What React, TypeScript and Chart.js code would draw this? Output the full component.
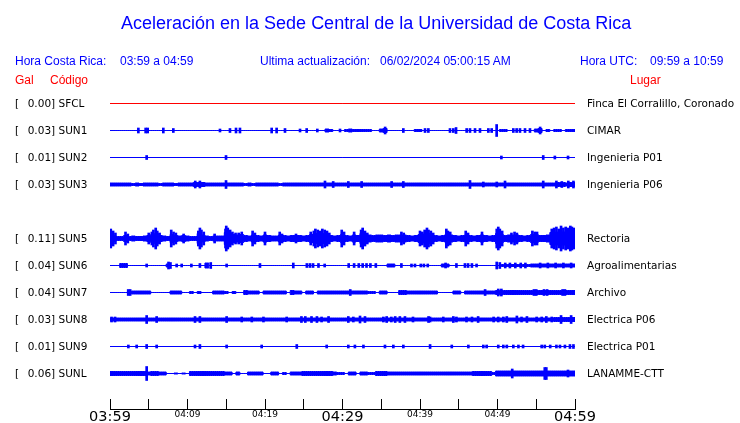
import { useEffect, useRef } from "react";
import { Chart, registerables } from "chart.js";

Chart.register(...registerables);

// ---------- data ----------
const CODES = ["SFCL", "SUN1", "SUN2", "SUN3", "SUN5", "SUN6", "SUN7", "SUN8", "SUN9", "SUNL"];
const PEAKS = ["0.00", "0.03", "0.01", "0.03", "0.11", "0.04", "0.04", "0.03", "0.01", "0.06"];
const PLACES = [
  "Finca El Corralillo, Coronado",
  "CIMAR",
  "Ingenieria P01",
  "Ingenieria P06",
  "Rectoria",
  "Agroalimentarias",
  "Archivo",
  "Electrica P06",
  "Electrica P01",
  "LANAMME-CTT",
];
// row slot of each station (slot 4 is empty)
const SLOTS = [0, 1, 2, 3, 5, 6, 7, 8, 9, 10];

// x axis: minutes after 03:59
const X_TICK_MINUTES = [0, 5, 10, 15, 20, 25, 30, 35, 40, 45, 50, 55, 60];
const X_TICK_LABELS = ["03:59", "", "04:09", "", "04:19", "", "04:29", "", "04:39", "", "04:49", "", "04:59"];
const X_MAJOR_LABELS = ["03:59", "04:29", "04:59"];

// envelope half-amplitudes (hundredths of gal), sampled evenly over the hour
const SFCL_ENV = [0, 0];
const SFCL_SPIKES: number[][] = [];

const SUN1_ENV = [
  0, 0, 0, 0, 0, 0, 0, 0, 0, 0,
  0, 0, 0, 0, 0, 0, 0, 0, 0, 0,
  0, 0, 0, 0, 0, 0, 0, 0, 0, 0,
  0, 0, 0, 0, 0, 0, 0, 0, 0, 0,
  0, 0, 0, 0, 0, 0, 0, 0, 0, 0,
  0, 0, 0, 0, 0, 0, 1.5, 1, 0, 0,
  0, 1, 1.5, 1, 1, 1, 1, 1, 0, 0,
  1.5, 2, 0, 0, 0, 0, 0, 0, 0, 1,
  1, 0, 0, 0, 0, 0, 0, 0, 0, 0,
  0, 0, 0, 0, 0, 0, 0, 0, 0, 0,
  0, 1, 1, 0, 0, 0, 0, 0, 0, 0,
  1.5, 2, 0, 1, 0, 1, 1, 0, 1, 1,
  1,
];
// [minute, half-amplitude]
const SUN1_SPIKES = [
  [3.66, 2], [4.6, 2], [4.86, 2], [6.88, 2], [8.17, 1.5], [14.19, 1], [15.48, 1.5], [16.26, 2],
  [16.77, 2], [20.86, 2], [21.5, 2], [22.58, 1.5], [24.52, 1], [25.38, 1.5], [26.75, 1], [29.68, 1],
  [35.5, 3], [37.85, 1.5], [40.65, 1.5], [41.08, 1.5], [43.87, 1.5], [44.3, 1.5], [44.65, 2.5], [46.02, 1.5],
  [46.45, 1.5], [47.1, 1.5], [47.74, 1.5], [48.82, 1.5], [49.25, 1.5], [49.89, 5.5], [52.04, 1.5],
  [52.47, 1.5], [52.9, 1.5], [53.55, 1.5], [54.19, 1.5], [55.5, 3],
];

const SUN2_ENV = [0, 0];
const SUN2_SPIKES = [[4.73, 1.5], [14.97, 1.5], [50.5, 1], [55.9, 1.5], [57.4, 1], [59.1, 1]];

const SUN3_ENV = [
  1.5, 1.5, 1.5, 1.5, 1.5, 1.5, 1, 1.5, 1, 1.5,
  1.5, 1.5, 1.5, 1, 1.5, 1.5, 1.5, 1, 1.5, 1.5,
  1.5, 1.5, 2, 2, 2, 1.5, 1.5, 1.5, 1.5, 1.5,
  1.5, 1.5, 1.5, 1.5, 1.5, 1, 1.5, 1, 1.5, 1.5,
  1.5, 1.5, 1.5, 1.5, 1, 1.5, 1.5, 1.5, 1.5, 1.5,
  1.5, 1.5, 1.5, 1.5, 1.5, 1.5, 1.5, 1.5, 1.5, 1.5,
  1.5, 1.5, 1.5, 1.5, 1.5, 1.5, 1.5, 1.5, 1.5, 1.5,
  1.5, 1.5, 1.5, 1.5, 1.5, 1.5, 1.5, 1.5, 1.5, 1.5,
  1.5, 1.5, 1.5, 1.5, 1.5, 1.5, 1.5, 1.5, 1.5, 1.5,
  1.5, 1.5, 1.5, 1.5, 1.5, 1.5, 1.5, 1.5, 1.5, 1.5,
  1.5, 1.5, 1.5, 1.5, 1.5, 1.5, 1.5, 1.5, 1.5, 1.5,
  1.5, 1.5, 1.5, 1.5, 1.5, 1.5, 2, 2, 1.5, 2,
  2,
];
const SUN3_SPIKES = [
  [11.0, 3], [11.6, 3], [14.97, 3.5], [27.74, 3], [28.8, 2.5], [30.75, 2.5], [32.47, 2.5],
  [36.34, 2.5], [37.85, 2.5], [46.45, 3.5], [48.17, 2], [49.9, 2], [50.97, 3], [55.9, 3],
  [57.6, 3], [58.3, 2.5], [59.14, 3], [59.8, 3],
];

// solid core of the Rectoria record, plus its individual peaks below
const SUN5_ENV = [
  4, 3, 2, 2, 3, 2, 2.5, 2, 2, 2.5,
  3, 4, 5, 3, 2.5, 2, 4, 3, 2.5, 3,
  2.5, 2, 2, 5, 3.5, 2.5, 2, 2.5, 2.5, 2.5,
  6, 5, 4, 3.5, 4, 3, 2.5, 3.5, 3, 2.5,
  3.5, 3, 2.5, 2.5, 3.5, 3, 2.5, 3, 3, 3,
  2.5, 3, 4, 5, 5, 5, 4, 3, 2.5, 3,
  4, 3, 2.5, 3.5, 3, 5, 4, 3.5, 3, 3.5,
  3.5, 3, 3.5, 3, 3.5, 3.5, 3.5, 3, 2.5, 3,
  4, 4.5, 5, 4, 3, 2.5, 3, 4.5, 3.5, 3,
  2.5, 3, 3.5, 3, 2.5, 3, 3.5, 3, 2.5, 3,
  5, 4, 3, 3.5, 3.5, 3.5, 3, 2.5, 3, 4,
  4, 3, 3, 3.5, 6, 6.5, 6.5, 6.5, 6.5, 6.5,
  6.5,
];
const SUN5_SPIKES = [
  [0.1, 9], [0.4, 7], [0.7, 5], [2.0, 6], [2.3, 4],
  [5.0, 5], [5.4, 6], [5.6, 8], [5.9, 10], [6.1, 7], [6.4, 5],
  [7.9, 8], [8.2, 6], [8.5, 5], [9.5, 4],
  [11.4, 7], [11.6, 10], [11.8, 8], [12.1, 6], [13.5, 4],
  [14.9, 9], [15.0, 12], [15.2, 10], [15.5, 8], [15.8, 6], [16.2, 5], [16.6, 5], [17.0, 6],
  [18.4, 7], [18.7, 5], [20.0, 6], [21.9, 6], [22.2, 4], [24.0, 4],
  [25.9, 6], [26.3, 7], [26.5, 9], [26.8, 8], [27.1, 7], [27.4, 9], [27.7, 8], [28.0, 7], [28.3, 5],
  [29.9, 8], [30.2, 6], [31.5, 6], [32.4, 8], [32.6, 10], [32.9, 7], [33.2, 5],
  [37.6, 6], [37.9, 5],
  [40.0, 7], [40.3, 6], [40.6, 8], [40.9, 10], [41.1, 8], [41.4, 7], [41.7, 5],
  [43.4, 9], [43.6, 7], [43.9, 6], [45.9, 7], [46.2, 5], [48.0, 6],
  [49.9, 9], [50.1, 11], [50.3, 9], [50.6, 7], [51.8, 5], [52.2, 6], [52.5, 5],
  [54.5, 7], [54.8, 6], [55.1, 6],
  [57.0, 9], [57.3, 10], [57.6, 11], [57.9, 9], [58.2, 12], [58.5, 10], [58.8, 11], [59.1, 10],
  [59.4, 12], [59.6, 11], [59.9, 10],
];

const SUN6_ENV = [
  0, 0, 0, 2, 2, 0, 0, 0, 0, 0,
  0, 0, 0, 0, 0, 1.5, 0, 0, 0, 0,
  0, 0, 0, 0, 0, 2.5, 0, 0, 0, 0,
  0, 0, 0, 0, 0, 0, 0, 0, 0, 0,
  0, 0, 0, 0, 0, 0, 0, 0, 0, 0,
  0, 0, 0, 0, 0, 0, 0, 0, 0, 0,
  0, 0, 0, 0, 0, 0, 0, 0, 0, 0,
  0, 0, 1.5, 1.5, 0, 0, 0, 0, 0, 0,
  0, 0, 0, 0, 0, 0, 1.5, 1.5, 0, 0,
  0, 0, 0, 0, 0, 0, 0, 0, 0, 0,
  0, 1, 1, 1, 1, 1, 1, 1, 1, 1.5,
  1.5, 1.5, 1.5, 1.5, 1.5, 1.5, 1.5, 1.5, 1.5, 1.5,
  1.5,
];
const SUN6_SPIKES = [
  [4.73, 1], [7.55, 3], [7.8, 2.5], [8.6, 1], [9.25, 1], [10.5, 1], [11.6, 1.5], [13.0, 2.5],
  [15.05, 1], [19.35, 1.5], [23.65, 2], [25.4, 1.5], [25.8, 1.5], [26.2, 1.5], [26.9, 1.5],
  [27.7, 1], [30.8, 1.5], [31.5, 1.5], [32.1, 1.5], [32.6, 1.5], [33.1, 1.5], [33.6, 1.5],
  [34.3, 1.5], [37.6, 1.5], [38.9, 1], [39.35, 1], [40.1, 1], [40.5, 1], [41, 1], [43.3, 2],
  [44.7, 1.5], [45.8, 1.5], [46.2, 1.5], [46.7, 1.5], [47.3, 1], [49.9, 3], [50.3, 2.5],
  [51, 2], [51.6, 2], [52.3, 2], [53, 2], [53.6, 2], [55.5, 2], [56.5, 2], [57.5, 2],
  [58.5, 2], [59.5, 2],
];

const SUN7_ENV = [
  0, 0, 0, 0, 0, 1, 1.5, 1.5, 1.5, 1.5,
  1.5, 0, 0, 0, 0, 0, 1.5, 1.5, 1.5, 0,
  0, 1, 0, 1, 0, 0, 0, 1.5, 1.5, 1.5,
  1, 0, 1, 0, 0, 2, 1.5, 1.5, 1.5, 0,
  1.5, 1.5, 1.5, 1.5, 1.5, 1.5, 0, 2, 1.5, 1.5,
  0, 1.5, 1.5, 0, 1.5, 1.5, 1.5, 1.5, 1.5, 1.5,
  1.5, 1.5, 1.5, 1.5, 1.5, 1.5, 1.5, 1, 1, 0,
  1.5, 1.5, 0, 0, 0, 2, 2, 1.5, 1.5, 1.5,
  1.5, 1.5, 1.5, 1.5, 1.5, 0, 0, 0, 0, 1.5,
  1.5, 0, 1.5, 1.5, 1.5, 1.5, 1.5, 1.5, 1.5, 1.5,
  2, 2, 2, 2, 2, 2, 2, 2, 2, 2,
  2, 2, 2, 2, 2, 2, 2, 2, 2, 2,
  2,
];
const SUN7_SPIKES = [
  [2.35, 2.5], [2.6, 2.5], [31.0, 2.5], [48.4, 2.5], [50.1, 3], [50.5, 3], [54.7, 2.5],
  [55.0, 2.5], [56.0, 2.5], [56.4, 2.5], [58.4, 2.5], [58.7, 2.5],
];

const SUN8_ENV = [
  1.5, 1.5, 1.5, 1.5, 1.5, 1.5, 1.5, 1.5, 1.5, 1.5,
  1.5, 1.5, 1.5, 1.5, 1.5, 1.5, 1.5, 1.5, 1.5, 1.5,
  1.5, 1.5, 1.5, 1.5, 1.5, 1.5, 1.5, 1.5, 1.5, 1.5,
  1.5, 1.5, 1.5, 1.5, 1.5, 1.5, 1.5, 1.5, 1.5, 1.5,
  1.5, 1.5, 1.5, 1.5, 1.5, 1.5, 1.5, 1.5, 1.5, 1.5,
  1.5, 1.5, 1.5, 1.5, 1.5, 1.5, 1.5, 1.5, 1.5, 1.5,
  1.5, 1.5, 1.5, 1.5, 1.5, 1.5, 1.5, 1.5, 1.5, 1.5,
  1.5, 1.5, 1.5, 1.5, 1.5, 1.5, 1.5, 1.5, 1.5, 1.5,
  1.5, 1.5, 1.5, 1.5, 1.5, 1.5, 1.5, 1.5, 1.5, 1.5,
  1.5, 1.5, 1.5, 1.5, 1.5, 1.5, 1.5, 1.5, 1.5, 1.5,
  1.5, 1.5, 1.5, 1.5, 1.5, 1.5, 1.5, 1.5, 1.5, 1.5,
  1.5, 1.5, 1.5, 1.5, 1.5, 2, 2, 2, 2, 2,
  2,
];
const SUN8_SPIKES = [
  [0.2, 2], [0.65, 2], [4.73, 3.5], [6.02, 2.5], [10.97, 2.5], [11.6, 2.5], [15.05, 2.5],
  [17, 2], [18.3, 2], [19.8, 2], [22.8, 2], [24.7, 2.5], [25.2, 2.5], [26, 2.5], [26.7, 2.5],
  [27.3, 2], [28.2, 2.5], [30.75, 2.5], [31.4, 2], [32.26, 3], [32.9, 2.5], [35.27, 2],
  [35.7, 2.5], [36.3, 2], [36.8, 2.5], [37.4, 2.5], [38.06, 2.5], [39.1, 2], [41.1, 2.5],
  [41.3, 2], [43, 2], [44.3, 2.5], [44.7, 2], [46, 2], [46.7, 2], [47.5, 2.5], [49.5, 2],
  [50.1, 2], [50.75, 2], [51.2, 2.5], [52.5, 3], [53.1, 2], [53.8, 2.5], [55.05, 2],
  [55.7, 2], [56.3, 2.5], [57, 2], [58.2, 3.5], [59.5, 3.5],
];

const SUN9_ENV = [0, 0];
const SUN9_SPIKES = [
  [2.37, 1], [3.44, 1], [4.73, 1.5], [6.02, 1], [10.97, 1], [11.6, 1.5], [15.05, 1], [19.57, 1],
  [24.1, 1.5], [27.96, 1], [30.75, 1], [31.6, 1], [32.7, 1], [35.48, 1], [36.56, 1], [37.85, 1],
  [41.3, 1.5], [44.1, 1], [46.24, 1], [48.17, 1], [48.6, 1], [50.1, 1], [50.75, 1], [51.2, 1],
  [52.04, 1], [52.7, 1], [53.3, 1], [55.7, 1], [56.1, 1], [56.8, 1], [57.6, 1], [58.06, 1],
  [58.7, 1], [59.35, 1.5], [59.8, 1.5],
];

const SUNL_ENV = [
  2, 2, 2, 2, 2, 2, 2, 2, 2, 2,
  1.5, 2, 2, 1.5, 1.5, 0, 0, 0.5, 0, 0.5,
  0, 2, 2, 2, 2, 2, 2, 2, 2, 2,
  1.5, 1.5, 0, 1.5, 0, 0, 1.5, 1.5, 1.5, 1.5,
  0, 0, 1.5, 1.5, 0, 1, 0, 1.5, 1.5, 1.5,
  2, 2, 2, 2, 2, 2, 2, 2, 1.5, 1,
  1, 0, 1.5, 1.5, 0, 1.5, 1.5, 1, 1, 2,
  2, 2, 1.5, 1.5, 1.5, 1.5, 1.5, 1.5, 1.5, 1.5,
  1.5, 1.5, 1.5, 1.5, 1.5, 1.5, 1.5, 1.5, 1.5, 1.5,
  1.5, 1.5, 1.5, 1.5, 2, 2, 2, 2, 2, 1,
  2.5, 2.5, 2.5, 2.5, 2.5, 2.5, 2.5, 2.5, 2.5, 2.5,
  2.5, 2.5, 2.5, 2.5, 2.5, 2.5, 2.5, 2.5, 2.5, 2.5,
  2.5,
];
const SUNL_SPIKES = [[4.73, 6.5], [51.9, 4], [56.1, 5.5], [56.3, 5.5], [59.1, 3]];

const ENVELOPES = [SFCL_ENV, SUN1_ENV, SUN2_ENV, SUN3_ENV, SUN5_ENV, SUN6_ENV, SUN7_ENV, SUN8_ENV, SUN9_ENV, SUNL_ENV];
const SPIKES = [SFCL_SPIKES, SUN1_SPIKES, SUN2_SPIKES, SUN3_SPIKES, SUN5_SPIKES, SUN6_SPIKES, SUN7_SPIKES, SUN8_SPIKES, SUN9_SPIKES, SUNL_SPIKES];

// ---------- styling ----------
const BLUE = "#0000ff";
const RED = "#ff0000";
const ROW_GAP = 27;
const SPAN_MINUTES = 60;
const SANS = "'Liberation Sans', Arial, sans-serif";
const DEJAVU = "'DejaVu Sans', sans-serif";

const slotValue = (slot: number) => (10 - slot) * ROW_GAP;
const labelForValue = (v: number) => SLOTS.findIndex((s) => slotValue(s) === v);

const axisLine = {
  id: "axisLine",
  afterDraw(chart: any) {
    const { ctx, chartArea } = chart;
    const xs = chart.scales.x;
    const y = Math.round(chartArea.bottom + 10) + 0.5;
    ctx.save();
    ctx.strokeStyle = "#000";
    ctx.lineWidth = 1;
    ctx.beginPath();
    ctx.moveTo(Math.round(xs.left), y);
    ctx.lineTo(Math.round(xs.right) + 1, y);
    ctx.stroke();
    ctx.restore();
  },
};

export default function App() {
  const ref = useRef<HTMLCanvasElement>(null);

  useEffect(() => {
    const canvas = ref.current;
    if (!canvas) return;
    const datasets: any[] = [];
    const spikeBars: any[] = [];
    ENVELOPES.forEach((amp, k) => {
      const c = slotValue(SLOTS[k]);
      const n = amp.length;
      const color = k === 0 ? RED : BLUE;
      const base = {
        type: "line",
        borderColor: color,
        backgroundColor: color,
        borderWidth: 1,
        pointRadius: 0,
        tension: 0,
        stepped: "middle",
        yAxisID: "y",
      };
      datasets.push({
        ...base,
        data: amp.map((a, i) => ({ x: (i * SPAN_MINUTES) / (n - 1), y: c + a })),
        fill: false,
      });
      datasets.push({
        ...base,
        data: amp.map((a, i) => ({ x: (i * SPAN_MINUTES) / (n - 1), y: c - a })),
        fill: "-1",
      });
      SPIKES[k].forEach(([m, a]) => {
        spikeBars.push({ x: m, y: [c - a - 0.5, c + a + 0.5] });
      });
    });
    datasets.push({
      type: "bar",
      data: spikeBars,
      backgroundColor: BLUE,
      borderWidth: 0,
      barThickness: 2,
      maxBarThickness: 2,
      yAxisID: "y",
    });

    const yCommon = (right: boolean) => ({
      type: "linear",
      position: right ? "right" : "left",
      min: -25.5,
      max: 284.5,
      bounds: "data",
      grid: { display: false, drawTicks: false },
      border: { display: false },
      afterBuildTicks: (s: any) => {
        s.ticks = SLOTS.map((sl) => ({ value: slotValue(sl) })).reverse();
      },
      afterFit: (s: any) => {
        s.width = right ? 165 : 95;
      },
      ticks: {
        autoSkip: false,
        padding: right ? 12 : 0,
        labelOffset: 1,
        crossAlign: right ? "near" : "far",
        color: "#000",
        font: { family: DEJAVU, size: 10.5 },
        callback: (v: number) => {
          const k = labelForValue(v);
          if (k < 0) return "";
          return right ? PLACES[k] : `[\u2002 ${PEAKS[k]}] ${CODES[k]}`;
        },
      },
    });

    const chart = new Chart(canvas, {
      type: "line",
      data: { datasets },
      options: {
        responsive: false,
        animation: false,
        devicePixelRatio: 1,
        events: [],
        layout: { padding: { left: 15, right: 0, top: 89, bottom: 0 } },
        plugins: { legend: { display: false }, tooltip: { enabled: false }, title: { display: false } },
        scales: {
          x: {
            type: "linear",
            min: 0,
            max: SPAN_MINUTES,
            bounds: "data",
            offset: false,
            afterBuildTicks: (s: any) => {
              s.ticks = X_TICK_MINUTES.map((m) => ({ value: m }));
            },
            afterFit: (s: any) => {
              s.height = 24;
            },
            grid: { drawOnChartArea: false, drawTicks: true, tickLength: 10, color: "#000", lineWidth: 1, offset: false },
            border: { display: false },
            ticks: {
              autoSkip: false,
              maxRotation: 0,
              padding: 0,
              color: "#000",
              font: (ctx: any) => {
                const idx = X_TICK_MINUTES.indexOf(ctx.tick?.value);
                const lbl = X_TICK_LABELS[idx] || "";
                return X_MAJOR_LABELS.includes(lbl)
                  ? { family: DEJAVU, size: 14.5 }
                  : { family: DEJAVU, size: 9 };
              },
              callback: (v: number) => {
                const idx = X_TICK_MINUTES.indexOf(v);
                return idx >= 0 ? X_TICK_LABELS[idx] : "";
              },
            },
          },
          y: yCommon(false),
          y2: yCommon(true),
        } as any,
      },
      plugins: [axisLine],
    } as any);
    return () => chart.destroy();
  }, []);

  const txt = (left: number, top: number, color: string, size = 12): React.CSSProperties => ({
    position: "absolute",
    left,
    top,
    color,
    fontFamily: SANS,
    fontSize: size,
    whiteSpace: "pre",
    lineHeight: "normal",
  });

  return (
    <div style={{ position: "absolute", left: 0, top: 0, width: 740, height: 423, background: "#fff" }}>
      <canvas ref={ref} width={740} height={423} style={{ position: "absolute", left: 0, top: 0 }} />
      <div style={txt(121, 13, BLUE, 18)}>Aceleración en la Sede Central de la Universidad de Costa Rica</div>
      <div style={txt(15, 54, BLUE)}>Hora Costa Rica:</div>
      <div style={txt(120, 54, BLUE)}>03:59 a 04:59</div>
      <div style={txt(260, 54, BLUE)}>Ultima actualización:</div>
      <div style={txt(380, 54, BLUE)}>06/02/2024 05:00:15 AM</div>
      <div style={txt(580, 54, BLUE)}>Hora UTC:</div>
      <div style={txt(650, 54, BLUE)}>09:59 a 10:59</div>
      <div style={txt(15, 73, RED)}>Gal</div>
      <div style={txt(50, 73, RED)}>Código</div>
      <div style={txt(630, 73, RED)}>Lugar</div>
    </div>
  );
}
